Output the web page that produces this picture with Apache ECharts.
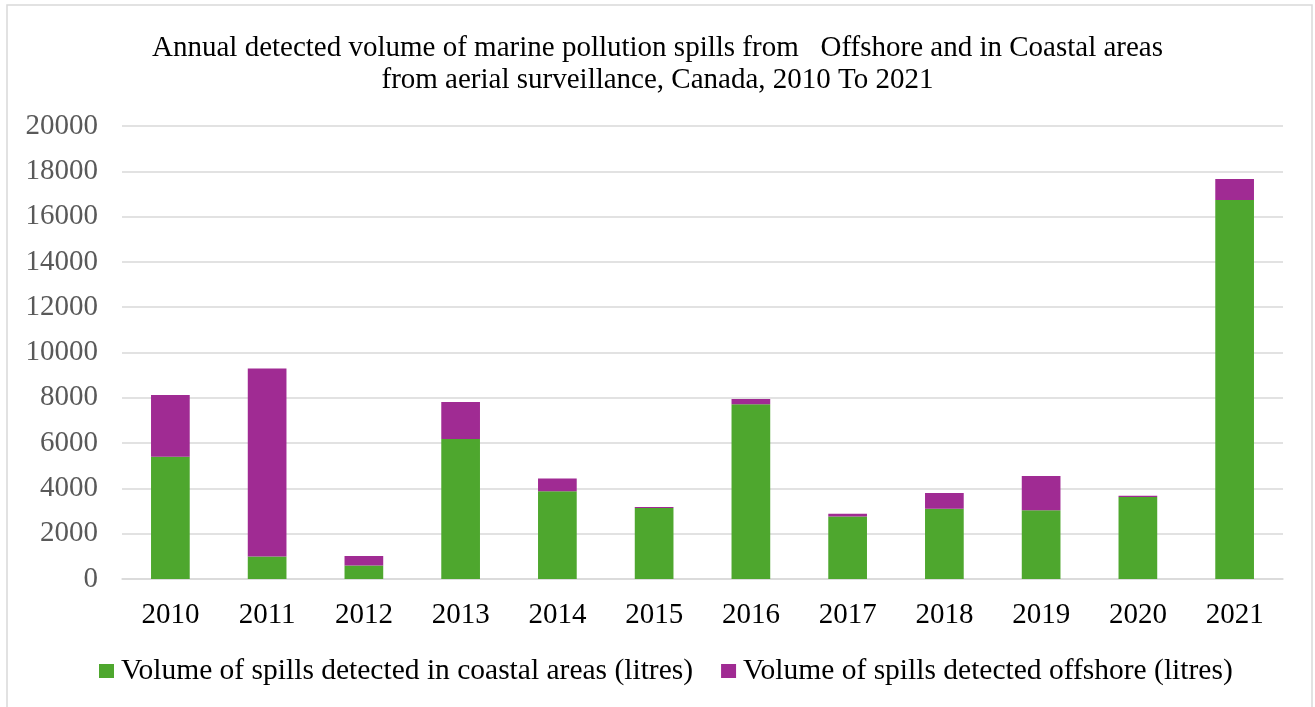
<!DOCTYPE html>
<html>
<head>
<meta charset="utf-8">
<script src="https://cdn.jsdelivr.net/npm/echarts@6/dist/echarts.min.js"></script>
<style>
  html, body { margin: 0; padding: 0; background: #fff; }
  #chart { width: 1315px; height: 707px; }
</style>
</head>
<body>
<div id="chart"></div>
<script>
// Years on the category axis
const years = ['2010', '2011', '2012', '2013', '2014', '2015', '2016', '2017', '2018', '2019', '2020', '2021'];
// Spill volumes (litres), stacked per year
const coastal = [5400, 990, 600, 6180, 3870, 3130, 7720, 2760, 3100, 3030, 3620, 16730];
const offshore = [2720, 8300, 410, 1630, 570, 50, 230, 120, 700, 1520, 60, 930];
// Value axis ticks
const yTicks = [0, 2000, 4000, 6000, 8000, 10000, 12000, 14000, 16000, 18000, 20000];

const serif = '"Liberation Serif", "DejaVu Serif", serif';
const chart = echarts.init(document.getElementById('chart'));

chart.setOption({
  animation: false,
  textStyle: { fontFamily: serif },
  title: {
    text: 'Annual detected volume of marine pollution spills from   Offshore and in Coastal areas\nfrom aerial surveillance, Canada, 2010 To 2021',
    left: 'center',
    top: 27,
    textStyle: { fontFamily: serif, fontSize: 29, fontWeight: 'normal', color: '#000', lineHeight: 32 }
  },
  graphic: [{
    type: 'rect',
    shape: { x: 7, y: 5, width: 1305, height: 710 },
    style: { fill: 'none', stroke: '#d9d9d9', lineWidth: 1.5 },
    silent: true
  }],
  legend: {
    bottom: 16,
    left: 94,
    itemWidth: 15,
    itemHeight: 14,
    itemGap: 28,
    icon: 'rect',
    textStyle: { fontFamily: serif, fontSize: 29.5, color: '#000', padding: [0, 0, 0, 2] },
    data: ['Volume of spills detected in coastal areas (litres)', 'Volume of spills detected offshore (litres)']
  },
  grid: { left: 122, right: 32, top: 126, bottom: 128, containLabel: false },
  xAxis: {
    type: 'category',
    data: years,
    axisLine: { show: true, lineStyle: { color: '#d9d9d9', width: 1.5 } },
    axisTick: { show: false },
    axisLabel: { fontFamily: serif, fontSize: 29, color: '#000', margin: 22 }
  },
  yAxis: {
    type: 'value',
    min: yTicks[0],
    max: yTicks[yTicks.length - 1],
    interval: yTicks[1] - yTicks[0],
    axisLine: { show: false },
    axisTick: { show: false },
    splitLine: { lineStyle: { color: '#d9d9d9', width: 1.5 } },
    axisLabel: { fontFamily: serif, fontSize: 29, color: '#595959', margin: 24, formatter: v => String(v) }
  },
  series: [
    {
      name: 'Volume of spills detected in coastal areas (litres)',
      type: 'bar',
      stack: 'total',
      barWidth: '40%',
      data: coastal,
      itemStyle: { color: '#4ea72e' }
    },
    {
      name: 'Volume of spills detected offshore (litres)',
      type: 'bar',
      stack: 'total',
      barWidth: '40%',
      data: offshore,
      itemStyle: { color: '#a02b93' }
    }
  ]
});
</script>
</body>
</html>
